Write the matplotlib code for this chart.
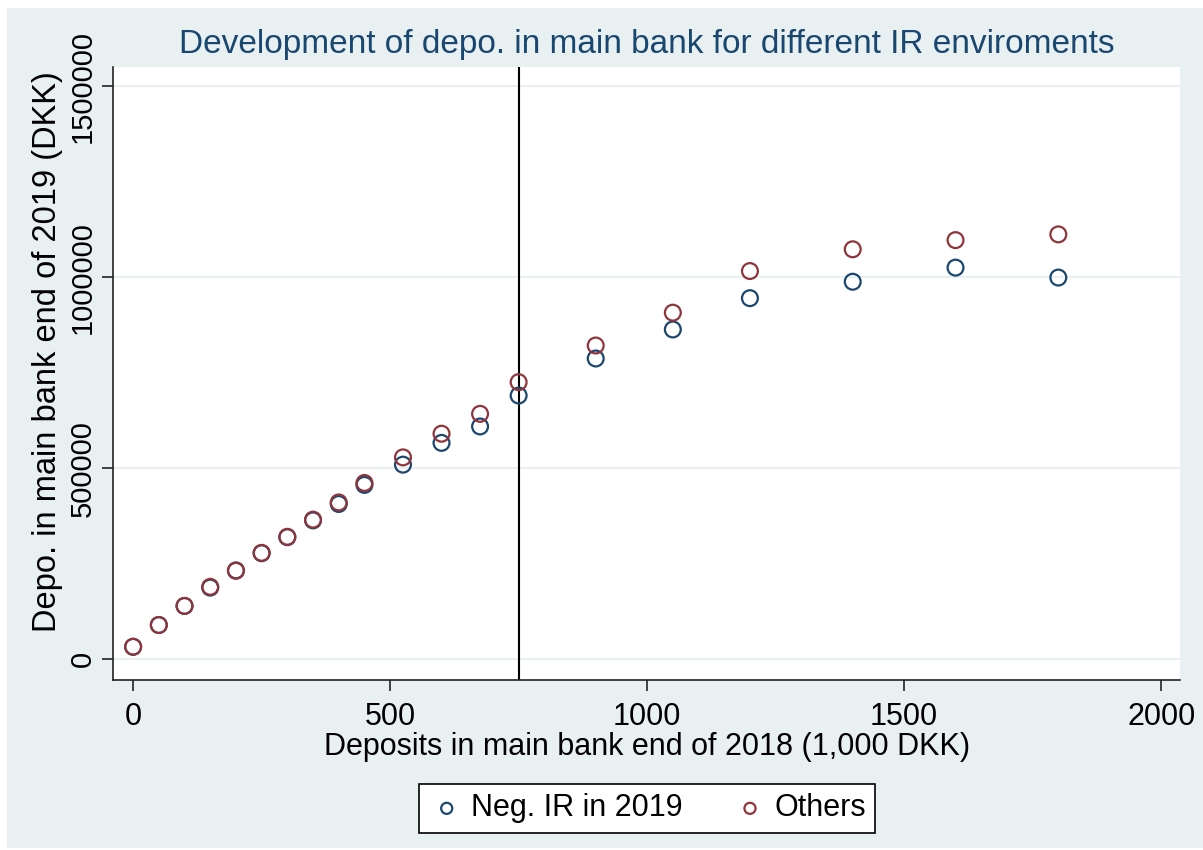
import matplotlib.pyplot as plt
from matplotlib.patches import Rectangle

plt.rcParams['font.family'] = ['Liberation Sans', 'DejaVu Sans']

# deposits end of 2018 (1,000 DKK)
deposits_2018 = [0, 50, 100, 150, 200, 250, 300, 350, 400, 450,
                 525, 600, 675, 750, 900, 1050, 1200, 1400, 1600, 1800]
# deposits end of 2019 (DKK)
neg_ir = [32000, 89000, 139000, 187000, 232000, 277000, 319000, 363000, 406000, 456000,
          509000, 566000, 609000, 690000, 787000, 863000, 945000, 988000, 1025000, 999000]
others = [32000, 89000, 139000, 189000, 231000, 278000, 320000, 365000, 410000, 461000,
          528000, 590000, 642000, 725000, 821000, 907000, 1016000, 1073000, 1097000, 1112000]
cutoff = 750

blue = '#1a476f'
red = '#90353b'
bg = '#e8f0f2'

fig = plt.figure(figsize=(12.03, 8.5), dpi=100, facecolor='white')
# light graph region with a thin white margin on the left/top
fig.patches.append(Rectangle((7 / 1203, 2 / 850), 1 - 7 / 1203, 1 - 10 / 850,
                             transform=fig.transFigure, facecolor=bg,
                             edgecolor='none', zorder=-10))

ax = fig.add_axes([0.094, 0.2, 0.887, 0.721])
ax.set_facecolor('white')

ax.scatter(deposits_2018, neg_ir, s=130, facecolors='none', edgecolors=blue,
           linewidths=1.6, label='Neg. IR in 2019', zorder=3)
ax.scatter(deposits_2018, others, s=130, facecolors='none', edgecolors=red,
           linewidths=1.6, label='Others', zorder=3)
ax.axvline(cutoff, color='black', linewidth=1.5, zorder=2)

ax.set_xlim(-39, 2037)
ax.set_ylim(-55000, 1550000)
ax.set_xticks([0, 500, 1000, 1500, 2000])
ax.set_yticks([0, 500000, 1000000, 1500000])
ax.set_yticklabels(['0', '500000', '1000000', '1500000'], rotation=90, va='center')
ax.yaxis.grid(True, color=bg, linewidth=1.5)
ax.set_axisbelow(True)

for s in ['top', 'right']:
    ax.spines[s].set_visible(False)
for s in ['left', 'bottom']:
    ax.spines[s].set_color('#222222')
    ax.spines[s].set_linewidth(1.2)
ax.tick_params(axis='x', labelsize=22, length=8, width=1.2, color='#222222', pad=8)
ax.tick_params(axis='y', labelsize=21, length=8, width=1.2, color='#222222', pad=4)

ax.set_xlabel('Deposits in main bank end of 2018 (1,000 DKK)', fontsize=22, labelpad=0)
ax.set_ylabel('Depo. in main bank end of 2019 (DKK)', fontsize=23.5)
ax.yaxis.set_label_coords(-0.047, 0.536)
ax.set_title('Development of depo. in main bank for different IR enviroments',
             fontsize=24, color=blue, pad=10)

leg = fig.legend(loc='center', bbox_to_anchor=(0.538, 0.049), ncol=2, fontsize=22,
                 frameon=True, fancybox=False, edgecolor='black', facecolor='white',
                 framealpha=1, markerscale=0.7, handletextpad=0.2, columnspacing=1.6,
                 handlelength=1.2, borderpad=0.3)
leg.get_frame().set_linewidth(1.2)

fig.savefig('out.png', dpi=100, facecolor='white')
